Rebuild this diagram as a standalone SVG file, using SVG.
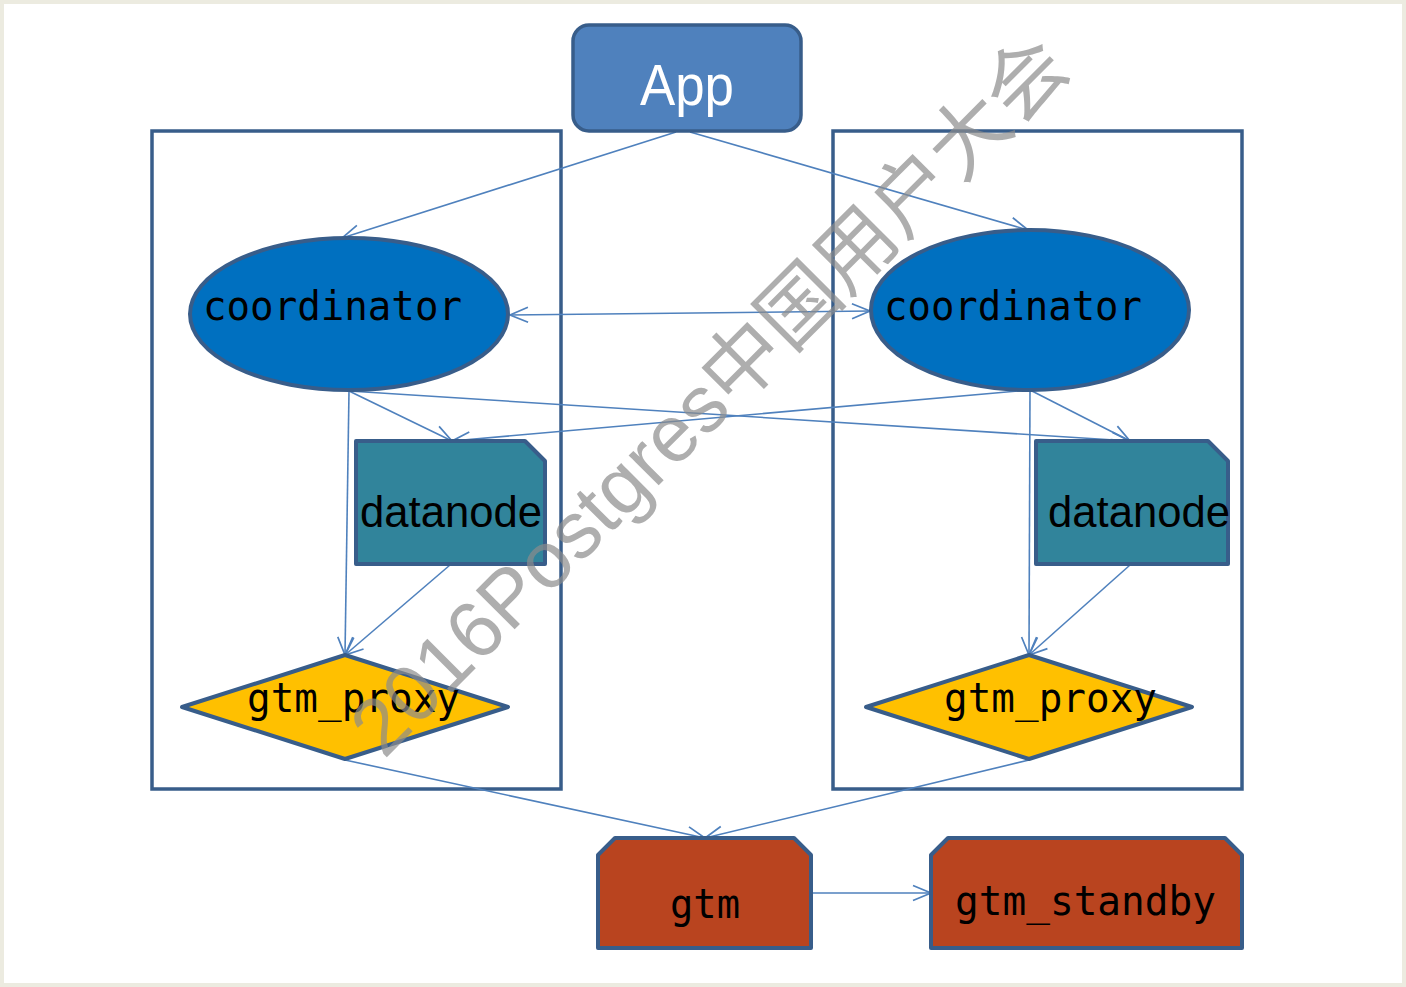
<svg xmlns="http://www.w3.org/2000/svg" width="1406" height="987" viewBox="0 0 1406 987">
<defs>
<marker id="arr" markerUnits="userSpaceOnUse" markerWidth="20" markerHeight="18" viewBox="0 0 20 18" refX="19" refY="9" orient="auto-start-reverse">
<path d="M1,1.5 L19,9 L1,16.5" fill="none" stroke="#4f81bd" stroke-width="1.7"/>
</marker>
<style>
.frame{fill:none;stroke:#385d8a;stroke-width:3.5}
.node{stroke:#385d8a;stroke-width:4;stroke-linejoin:round}
.con{fill:none;stroke:#4f81bd;stroke-width:1.6;marker-end:url(#arr)}
.mono{font-family:"DejaVu Sans Mono","Liberation Mono",monospace;font-size:40px;fill:#000}
.sans{font-family:"Liberation Sans",Arial,sans-serif;font-size:44px;fill:#000}
</style>
</defs>
<rect x="2" y="2" width="1402" height="983" fill="#ffffff" stroke="#ecebe0" stroke-width="4"/>
<rect class="frame" x="152" y="131" width="409" height="658"/>
<rect class="frame" x="833" y="131" width="409" height="658"/>
<g id="connectors">
<line class="con" x1="676" y1="132" x2="342" y2="238"/>
<line class="con" x1="690" y1="132" x2="1028" y2="230"/>
<line class="con" x1="510" y1="315" x2="870" y2="311" style="marker-start:url(#arr)"/>
<line class="con" x1="349" y1="391" x2="452" y2="441"/>
<line class="con" x1="349" y1="391" x2="1130" y2="441"/>
<line class="con" x1="1030" y1="390" x2="452" y2="441"/>
<line class="con" x1="1030" y1="390" x2="1130" y2="441"/>
<line class="con" x1="349" y1="391" x2="345" y2="655"/>
<line class="con" x1="450" y1="565" x2="345" y2="655"/>
<line class="con" x1="1030" y1="390" x2="1029" y2="655"/>
<line class="con" x1="1130" y1="565" x2="1029" y2="655"/>
<line class="con" x1="345" y1="760" x2="705" y2="838"/>
<line class="con" x1="1029" y1="760" x2="705" y2="838"/>
<line class="con" x1="811" y1="893" x2="931" y2="893"/>
</g>
<g id="app">
<rect x="573" y="25" width="228" height="106" rx="16" fill="#4f81bd" stroke="#385d8a" stroke-width="3.5"/>
<text x="687" y="105" text-anchor="middle" font-family="Liberation Sans,Arial,sans-serif" font-size="58" fill="#ffffff" textLength="94" lengthAdjust="spacingAndGlyphs">App</text>
</g>
<g id="coordinator-left">
<ellipse class="node" cx="349" cy="314" rx="159" ry="76" fill="#0070c0"/>
<text class="mono" x="203" y="320" textLength="259" lengthAdjust="spacingAndGlyphs">coordinator</text>
</g>
<g id="coordinator-right">
<ellipse class="node" cx="1030" cy="310" rx="159" ry="80" fill="#0070c0"/>
<text class="mono" x="884" y="320" textLength="258" lengthAdjust="spacingAndGlyphs">coordinator</text>
</g>
<g id="datanode-left">
<path class="node" d="M356,441 L525,441 L545,461 L545,564 L356,564 Z" fill="#31849b"/>
<text class="sans" x="360" y="527" textLength="182" lengthAdjust="spacingAndGlyphs">datanode</text>
</g>
<g id="datanode-right">
<path class="node" d="M1036,441 L1208,441 L1228,461 L1228,564 L1036,564 Z" fill="#31849b"/>
<text class="sans" x="1048" y="527" textLength="182" lengthAdjust="spacingAndGlyphs">datanode</text>
</g>
<g id="gtm-proxy-left">
<polygon class="node" points="182,707 345,655 508,707 345,759" fill="#ffc000"/>
<text class="mono" x="247" y="712" textLength="213" lengthAdjust="spacingAndGlyphs">gtm_proxy</text>
</g>
<g id="gtm-proxy-right">
<polygon class="node" points="866,707 1029,655 1192,707 1029,759" fill="#ffc000"/>
<text class="mono" x="944" y="712" textLength="213" lengthAdjust="spacingAndGlyphs">gtm_proxy</text>
</g>
<g id="gtm">
<path class="node" d="M615,838 L794,838 L811,855 L811,948 L598,948 L598,855 Z" fill="#b9441f"/>
<text class="mono" x="670" y="918" textLength="70" lengthAdjust="spacingAndGlyphs">gtm</text>
</g>
<g id="gtm-standby">
<path class="node" d="M948,838 L1225,838 L1242,855 L1242,948 L931,948 L931,855 Z" fill="#b9441f"/>
<text class="mono" x="955" y="915" textLength="261" lengthAdjust="spacingAndGlyphs">gtm_standby</text>
</g>
<text x="384" y="760" transform="rotate(-45 384 760)" font-family="Liberation Sans,'Noto Sans CJK SC',sans-serif" font-size="80" fill="#8c8c8c" fill-opacity="0.7" textLength="975" lengthAdjust="spacingAndGlyphs">2016Postgres中国用户大会</text>
</svg>
